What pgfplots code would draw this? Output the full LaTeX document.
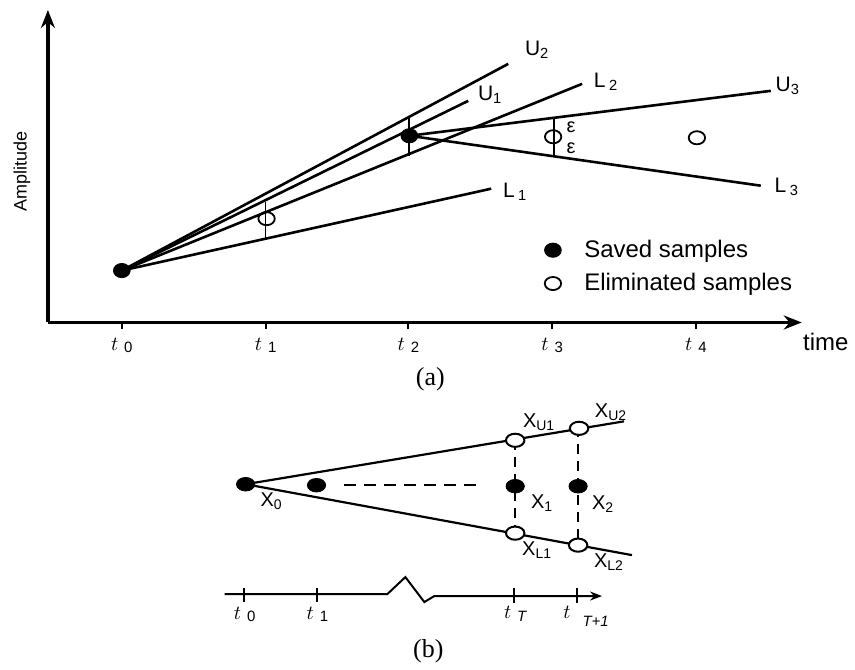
\documentclass[border=0pt]{standalone}
\usepackage{fontspec}
\setmainfont{Liberation Sans}
\newfontfamily\serif{Liberation Serif}
\usepackage{pgfplots}
\pgfplotsset{compat=1.18}
\usetikzlibrary{arrows.meta}

\newcommand{\fs}[1]{\fontsize{#1}{#1}\selectfont}
\newcommand{\tlab}[1]{$t$\hspace{3pt}\raisebox{-1pt}{\fs{7.5}#1}}

\begin{document}
\begin{tikzpicture}
% whole picture in pixel units (1 px = 0.5pt), panel (b)
\begin{axis}[at={(0,0)}, anchor=south west, scale only axis,
  width=427.5pt, height=332pt,
  xmin=0, xmax=855, ymin=0, ymax=664,
  hide axis, clip=false]
\addplot[draw=none, forget plot] coordinates {(0,0) (855,664)};
% fan lines
\addplot[line width=1.1pt] coordinates {(246,179) (625,242)};
\addplot[line width=1.1pt] coordinates {(246,179) (633,108)};
% dashed lines
\addplot[line width=1pt, dash pattern=on 6pt off 4pt] coordinates {(345,178) (477,178)};
\addplot[line width=1pt, dash pattern=on 5pt off 3.5pt] coordinates {(516,223) (516,130)};
\addplot[line width=1pt, dash pattern=on 5pt off 3.5pt] coordinates {(579,236) (579,118)};
% samples
\addplot[only marks, mark=*, mark size=3.4pt, mark options={xscale=1.35}] coordinates {(246,179) (317,178) (516,177) (579,177)};
\addplot[only marks, mark=*, mark size=3.3pt, mark options={xscale=1.4, fill=white, line width=1pt}] coordinates {(516,223) (580,235) (516,130) (579,118)};
% time axis with break
\addplot[line width=1pt, -{Stealth[length=6pt,width=4.5pt]}] coordinates {(225,69) (388,69) (406,86) (425,61) (435,67) (603,67)};
\addplot[line width=1pt] coordinates {(244,75) (244,61)};
\addplot[line width=1pt] coordinates {(317,75) (317,61)};
\addplot[line width=1pt] coordinates {(515,75) (515,60)};
\addplot[line width=1pt] coordinates {(578,75) (578,60)};
% labels
\node[font=\fs{10}] at (axis cs:272,162) {X\textsubscript{0}};
\node[font=\fs{10}] at (axis cs:540,241) {X\textsubscript{U1}};
\node[font=\fs{10}] at (axis cs:612,251) {X\textsubscript{U2}};
\node[font=\fs{10}] at (axis cs:543,160) {X\textsubscript{1}};
\node[font=\fs{10}] at (axis cs:604,159) {X\textsubscript{2}};
\node[font=\fs{10}] at (axis cs:538,113) {X\textsubscript{L1}};
\node[font=\fs{10}] at (axis cs:610,101) {X\textsubscript{L2}};
\node at (axis cs:245,49) {\tlab{0}};
\node at (axis cs:318,49) {\tlab{1}};
\node at (axis cs:516,49) {$t$\hspace{3pt}\raisebox{-1.5pt}{\fs{7.5}\itshape T}};
\node at (axis cs:587,47) {$t$\hspace{6pt}\raisebox{-4pt}{\fs{7.5}\itshape T+1}};
\node[font=\serif\fs{13}] at (axis cs:429,12) {(b)};
\node[font=\serif\fs{13}] at (axis cs:431,284) {(a)};
\end{axis}

% panel (a)
\begin{axis}[at={(24pt,170.5pt)}, anchor=south west, scale only axis,
  width=377.5pt, height=156.5pt,
  xmin=48, xmax=803, ymin=341, ymax=654,
  axis lines=left,
  axis line style={line width=1.6pt, -{Stealth[length=9pt,width=7pt]}},
  xtick={122,266,409,553,697},
  xticklabels={\tlab{0},\tlab{1},\tlab{2},\tlab{3},\tlab{4}},
  ytick=\empty,
  tick align=outside, major tick length=3.5pt,
  xtick style={line width=1pt, black},
  xticklabel style={anchor=north, yshift=-1pt},
  xlabel={time},
  xlabel style={at={(axis description cs:1.0318,-0.0607)}, anchor=center, font=\fs{12}},
  ylabel={Amplitude},
  ylabel style={at={(axis description cs:-0.0344,0.482)}, anchor=center, font=\fs{9}},
  clip=false,
  legend style={draw=none, fill=none, at={(axis cs:539,428)}, anchor=north west,
    font=\fs{12}, nodes={inner sep=0pt}, column sep=11.5pt, row sep=6.5pt},
  legend cell align=left,
  legend image code/.code={\path[draw=none, fill=none] (-4pt,-4pt) rectangle (4pt,4pt); \draw[#1] plot coordinates {(0pt,0pt)};},
]
% lines from t0
\addplot[line width=1.3pt, forget plot] coordinates {(122,393) (509,600)};
\addplot[line width=1.3pt, forget plot] coordinates {(122,393) (469,563)};
\addplot[line width=1.3pt, forget plot] coordinates {(122,393) (583,580)};
\addplot[line width=1.3pt, forget plot] coordinates {(122,393) (492,475)};
% lines from t2
\addplot[line width=1.3pt, forget plot] coordinates {(410,528) (772,573)};
\addplot[line width=1.3pt, forget plot] coordinates {(410,528) (762,478)};
% epsilon bars
\addplot[line width=0.9pt, forget plot] coordinates {(266,462) (266,425)};
\addplot[line width=0.9pt, forget plot] coordinates {(410,547) (410,508)};
\addplot[line width=0.9pt, forget plot] coordinates {(555,546) (555,507)};
% samples
\addplot[only marks, mark=*, mark size=4.2pt, mark options={yscale=0.85}] coordinates {(122,393) (410,528)};
\addplot[only marks, mark=o, mark size=4.1pt, mark options={yscale=0.8, line width=0.9pt}] coordinates {(267,445) (554,527) (698,526)};
\legend{Saved samples, Eliminated samples}
% line labels
\node[font=\fs{10.5}] at (axis cs:538,614) {U\textsubscript{2}};
\node[font=\fs{10.5}] at (axis cs:491,569) {U\textsubscript{1}};
\node[font=\fs{10.5}] at (axis cs:607,582) {L\,\textsubscript{2}};
\node[font=\fs{10.5}] at (axis cs:516,472) {L\,\textsubscript{1}};
\node[font=\fs{10.5}] at (axis cs:789,578) {U\textsubscript{3}};
\node[font=\fs{10.5}] at (axis cs:788,477) {L\,\textsubscript{3}};
\node[font=\fs{10}] at (axis cs:572,537) {ε};
\node[font=\fs{10}] at (axis cs:572,516) {ε};
\end{axis}
\end{tikzpicture}
\end{document}
